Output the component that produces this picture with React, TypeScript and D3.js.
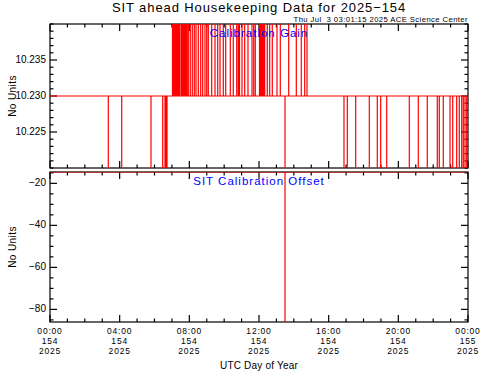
import React from 'react';
import * as d3 from 'd3';

// hours (UTC) of day 154 where the calibration gain jumps off the 10.230 level
const gainUpHours = [
  7.033, 7.091, 7.148, 7.206, 7.263, 7.32, 7.378, 7.435, 7.521, 7.579, 7.636,
  7.694, 7.751, 7.809, 7.866, 7.941, 8.055, 8.17, 8.285, 8.383, 8.515, 8.653,
  8.767, 8.899, 8.997, 9.089, 9.284, 9.474, 9.629, 9.761, 9.95, 10.088, 10.352,
  10.524, 10.72, 10.811, 10.88, 11.024, 11.179, 11.368, 11.598, 11.696, 11.788,
  12.028, 12.086, 12.143, 12.201, 12.258, 12.327, 12.476, 12.614, 12.763,
  13.033, 13.223, 13.705, 14.142, 14.428, 14.624, 14.756,
];
const gainDownHours = [
  3.347, 4.117, 5.799, 6.471, 6.603, 6.66, 6.718, 13.493, 16.88, 17.07, 17.552,
  18.333, 18.793, 18.987, 19.332, 20.63, 21.146, 21.663, 22.237, 22.352,
  22.582, 22.967, 23.122, 23.351, 23.5, 23.638, 23.73, 23.828, 23.925,
];
const gainLevels = { base: 10.23, high: 10.2425, low: 10.2175 };

const offsetDownHours = [13.493];
const offsetLevels = { base: -14.6, low: -86.0 };

const hourTicks = [0, 4, 8, 12, 16, 20, 24];
const hourLabels = ['00:00', '04:00', '08:00', '12:00', '16:00', '20:00', '00:00'];
const dayLabels = ['154', '154', '154', '154', '154', '154', '155'];
const yearLabel = '2025';

const gainTicks = [10.225, 10.23, 10.235];
const offsetTicks = [-80, -60, -40, -20];

const W = 481;
const H = 371;
const left = 50;
const right = 468;
const font = 'Liberation Sans, Arial, sans-serif';

const x = d3.scaleLinear().domain([0, 24]).range([left, right]);

const buildSeries = (
  up: number[],
  down: number[],
  base: number,
  high: number,
  low: number
) => {
  const events = [
    ...up.map((t) => ({ t, v: high })),
    ...down.map((t) => ({ t, v: low })),
  ].sort((a, b) => a.t - b.t);
  const pts: [number, number][] = [[0, base]];
  events.forEach(({ t, v }) => {
    pts.push([t, base], [t, v], [t, base]);
  });
  pts.push([24, base]);
  return pts;
};

interface PanelProps {
  id: string;
  top: number;
  bottom: number;
  domain: [number, number];
  ticks: number[];
  minorStep: number;
  fmt: (v: number) => string;
  points: [number, number][];
  title: string;
  showXLabels?: boolean;
}

const Panel = ({
  id,
  top,
  bottom,
  domain,
  ticks,
  minorStep,
  fmt,
  points,
  title,
  showXLabels,
}: PanelProps) => {
  const y = d3.scaleLinear().domain(domain).range([bottom, top]);
  const line = d3
    .line<[number, number]>()
    .x((d) => x(d[0]))
    .y((d) => y(d[1]));

  const minors: number[] = [];
  const start = Math.ceil(domain[0] / minorStep - 1e-6);
  const end = Math.floor(domain[1] / minorStep + 1e-6);
  for (let i = start; i <= end; i++) minors.push(i * minorStep);

  const hourMinor = d3.range(0, 25);
  const mid = (top + bottom) / 2;

  return (
    <g>
      <defs>
        <clipPath id={id}>
          <rect x={left} y={top} width={right - left} height={bottom - top} />
        </clipPath>
      </defs>
      <g stroke="#000" strokeWidth={1.2}>
        {hourMinor.map((h) => {
          const len = h % 4 === 0 ? 7 : 3.5;
          return (
            <g key={`h${h}`}>
              <line x1={x(h)} x2={x(h)} y1={bottom} y2={bottom - len} />
              <line x1={x(h)} x2={x(h)} y1={top} y2={top + len} />
            </g>
          );
        })}
        {minors.map((v) => {
          const major = ticks.some((t) => Math.abs(t - v) < minorStep / 10);
          const len = major ? 7 : 3.5;
          return (
            <g key={`m${v}`}>
              <line x1={left} x2={left + len} y1={y(v)} y2={y(v)} />
              <line x1={right} x2={right - len} y1={y(v)} y2={y(v)} />
            </g>
          );
        })}
        <rect
          x={left}
          y={top}
          width={right - left}
          height={bottom - top}
          fill="none"
        />
      </g>
      <path
        d={line(points) || ''}
        fill="none"
        stroke="#ff0000"
        strokeWidth={1.2}
        clipPath={`url(#${id})`}
      />
      <g fontFamily={font} fontSize={10} fill="#000">
        {ticks.map((t) => (
          <text
            key={t}
            x={left - 4}
            y={y(t)}
            textAnchor="end"
            dominantBaseline="middle"
          >
            {fmt(t)}
          </text>
        ))}
        <text
          transform={`translate(13,${mid}) rotate(-90)`}
          textAnchor="middle"
          dominantBaseline="middle"
          letterSpacing={0.4}
        >
          No Units
        </text>
      </g>
      <text
        x={(left + right) / 2}
        y={top + 13}
        textAnchor="middle"
        fontFamily={font}
        fontSize={11.5}
        letterSpacing={1}
        fill="#0000ff"
      >
        {title}
      </text>
      {showXLabels && (
        <g
          fontFamily={font}
          fontSize={8.5}
          letterSpacing={0.8}
          fill="#000"
          textAnchor="middle"
        >
          {hourTicks.map((h, i) => (
            <text key={`xl${i}`} x={x(h)} y={bottom + 12}>
              <tspan x={x(h)}>{hourLabels[i]}</tspan>
              <tspan x={x(h)} dy={9.8}>
                {dayLabels[i]}
              </tspan>
              <tspan x={x(h)} dy={9.8}>
                {yearLabel}
              </tspan>
            </text>
          ))}
        </g>
      )}
    </g>
  );
};

const App = () => {
  const gainPts = buildSeries(
    gainUpHours,
    gainDownHours,
    gainLevels.base,
    gainLevels.high,
    gainLevels.low
  );
  const offsetPts = buildSeries(
    [],
    offsetDownHours,
    offsetLevels.base,
    offsetLevels.base,
    offsetLevels.low
  );

  return (
    <svg
      width={W}
      height={H}
      viewBox={`0 0 ${W} ${H}`}
      style={{ position: 'absolute', left: 0, top: 0, background: '#fff' }}
    >
      <rect width={W} height={H} fill="#fff" />
      <text
        x={259}
        y={11.5}
        textAnchor="middle"
        fontFamily={font}
        fontSize={13}
        letterSpacing={0.9}
        fill="#000"
      >
        SIT ahead Housekeeping Data for 2025−154
      </text>
      <text
        x={right}
        y={22}
        textAnchor="end"
        fontFamily={font}
        fontSize={7.7}
        letterSpacing={0.4}
        fill="#000"
        style={{ whiteSpace: 'pre' }}
      >
        {'Thu Jul  3 03:01:15 2025 ACE Science Center'}
      </text>
      <Panel
        id="clip-gain"
        top={24}
        bottom={168}
        domain={[10.22, 10.24]}
        ticks={gainTicks}
        minorStep={0.001}
        fmt={(v) => v.toFixed(3)}
        points={gainPts}
        title="Calibration Gain"
      />
      <Panel
        id="clip-offset"
        top={172}
        bottom={322}
        domain={[-86.0, -14.6]}
        ticks={offsetTicks}
        minorStep={5}
        fmt={(v) => `−${Math.abs(v)}`}
        points={offsetPts}
        title="SIT Calibration Offset"
        showXLabels
      />
      <text
        x={259}
        y={369}
        textAnchor="middle"
        fontFamily={font}
        fontSize={10}
        letterSpacing={0.2}
        fill="#000"
      >
        UTC Day of Year
      </text>
    </svg>
  );
};

export default App;
